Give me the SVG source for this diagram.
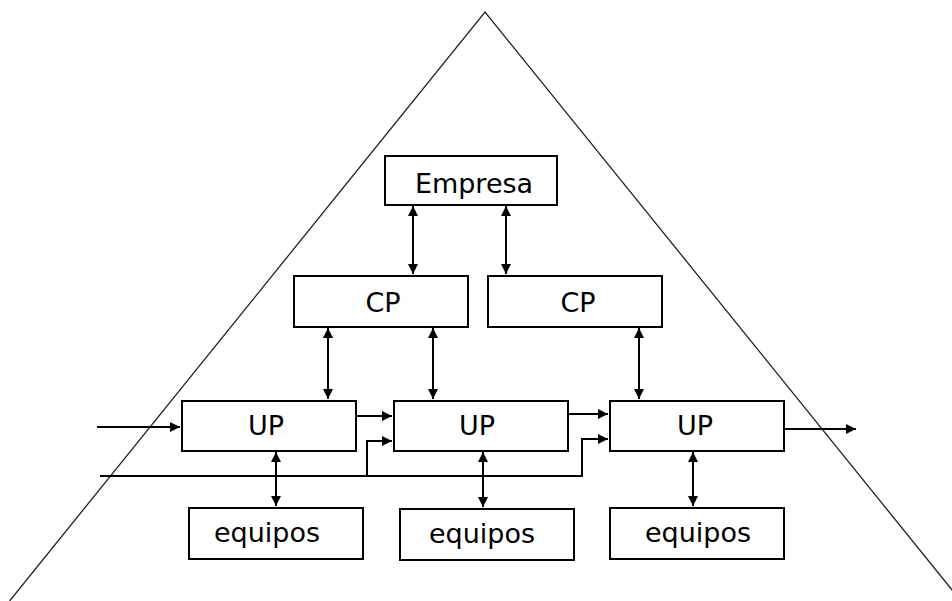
<svg xmlns="http://www.w3.org/2000/svg" width="952" height="601" viewBox="0 0 952 601">
  <style>
    .box rect { fill: #ffffff; stroke: #000000; stroke-width: 2; }
    .box text { font-family: "DejaVu Sans", "Liberation Sans", sans-serif; font-size: 27px; fill: #000000; text-anchor: middle; }
    .link { fill: none; stroke: #000000; stroke-width: 2; }
    .both { marker-start: url(#head); marker-end: url(#head); }
    .one { marker-end: url(#head); }
    .pyramid { fill: none; stroke: #222222; stroke-width: 1.3; }
  </style>
  <defs>
    <marker id="head" viewBox="0 0 10 10" refX="10" refY="5" markerWidth="10" markerHeight="10" markerUnits="userSpaceOnUse" orient="auto-start-reverse">
      <path d="M0,0 L10,5 L0,10 z" fill="#000000"/>
    </marker>
  </defs>

  <rect width="952" height="601" fill="#ffffff"/>

  <!-- pyramid outline -->
  <polyline class="pyramid" points="9.6,601 485,12 961,601"/>

  <g id="connectors">
    <!-- Empresa <-> CP -->
    <path class="link both" d="M413,206 V274"/>
    <path class="link both" d="M506,206 V274"/>
    <!-- CP <-> UP -->
    <path class="link both" d="M328,328 V399"/>
    <path class="link both" d="M433,328 V399"/>
    <path class="link both" d="M639,328 V399"/>
    <!-- UP <-> equipos -->
    <path class="link both" d="M276,452 V506"/>
    <path class="link both" d="M483,452 V507"/>
    <path class="link both" d="M693,452 V506"/>
    <!-- material flow -->
    <path class="link one" d="M97,427 H180"/>
    <path class="link one" d="M357,416 H392"/>
    <path class="link one" d="M569,414 H608"/>
    <path class="link one" d="M785,429 H856"/>
    <!-- shared feed line -->
    <path class="link one" d="M100,476 H582 V439 H608"/>
    <path class="link one" d="M367,476 V441 H392"/>
  </g>

  <g id="empresa" class="box">
    <rect x="385" y="156" width="172" height="49"/>
    <text x="474" y="193">Empresa</text>
  </g>

  <g id="cp-1" class="box">
    <rect x="294" y="276" width="174" height="51"/>
    <text x="383" y="312">CP</text>
  </g>
  <g id="cp-2" class="box">
    <rect x="488" y="276" width="174" height="51"/>
    <text x="578" y="312">CP</text>
  </g>

  <g id="up-1" class="box">
    <rect x="182" y="401" width="174" height="50"/>
    <text x="266" y="435">UP</text>
  </g>
  <g id="up-2" class="box">
    <rect x="394" y="401" width="174" height="50"/>
    <text x="477" y="435">UP</text>
  </g>
  <g id="up-3" class="box">
    <rect x="610" y="401" width="174" height="50"/>
    <text x="695" y="435">UP</text>
  </g>

  <g id="equipos-1" class="box">
    <rect x="189" y="508" width="174" height="51"/>
    <text x="267" y="542">equipos</text>
  </g>
  <g id="equipos-2" class="box">
    <rect x="400" y="509" width="174" height="51"/>
    <text x="482" y="543">equipos</text>
  </g>
  <g id="equipos-3" class="box">
    <rect x="610" y="508" width="174" height="51"/>
    <text x="698" y="542">equipos</text>
  </g>
</svg>
